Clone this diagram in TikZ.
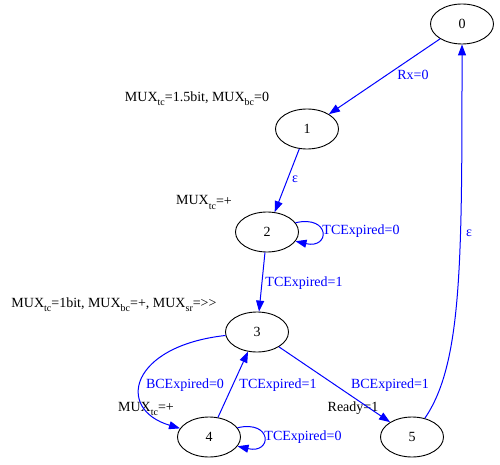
\documentclass[tikz,border=0pt]{standalone}
\usepackage{fontspec}
\setmainfont{Liberation Serif}
\usetikzlibrary{arrows.meta,shapes.geometric}
\newcommand{\lowidx}[1]{\raisebox{-4pt}{\fontsize{10}{10}\selectfont #1}}

\begin{document}
\begin{tikzpicture}[x=1pt,y=1pt,>={Triangle[length=11pt,width=8pt]},
        every node/.style={font=\fontsize{14}{16}\selectfont},
        state/.style={ellipse,draw,line width=0.9pt,minimum width=63pt,minimum height=40pt,inner sep=0pt},
        trans/.style={->,blue,line width=1pt},
        lbl/.style={blue,anchor=base},
        xlbl/.style={anchor=base}]
        \useasboundingbox (0,0) rectangle (500,464);

        \node[state] (s0) at (462,440) {0};
        \node[state] (s1) at (307,335) {1};
        \node[state] (s2) at (267,232) {2};
        \node[state] (s3) at (257,132) {3};
        \node[state] (s4) at (209,27) {4};
        \node[state] (s5) at (412,27) {5};

        % outputs of the states
        \node[xlbl] (x1) at (197,362) {MUX\lowidx{tc}=1.5bit, MUX\lowidx{bc}=0};
        \node[xlbl] (x2) at (204,259) {MUX\lowidx{tc}=+};
        \node[xlbl] (x3) at (114,157) {MUX\lowidx{tc}=1bit, MUX\lowidx{bc}=+, MUX\lowidx{sr}=>{}>};
        \node[xlbl] (x4) at (146,53) {MUX\lowidx{tc}=+};
        \node[xlbl] (x5) at (353,53) {Ready=1};

        \draw[trans] (s0) -- (s1);
        \draw[trans] (s1) -- (s2);
        \draw[trans] (s2.18) .. controls +(35,8) and +(35,-8) .. (s2.-18);
        \draw[trans] (s2) -- (s3);
        \draw[trans] (s3) .. controls (130,118) and (115,55) .. (s4);
        \draw[trans] (s4) -- (s3);
        \draw[trans] (s3) -- (s5);
        \draw[trans] (s4.18) .. controls +(35,8) and +(35,-8) .. (s4.-18);
        \draw[trans] (s5) .. controls (462,100) and (462,200) .. (s0);

        \node[lbl] (l01) at (413,384) {Rx=0};
        \node[lbl] (l12) at (295,281) {ε};
        \node[lbl] (l22) at (361,230) {TCExpired=0};
        \node[lbl] (l23) at (304,178) {TCExpired=1};
        \node[lbl] (l34) at (185,76) {BCExpired=0};
        \node[lbl] (l43) at (278,76) {TCExpired=1};
        \node[lbl] (l35) at (390,76) {BCExpired=1};
        \node[lbl] (l44) at (303,24) {TCExpired=0};
        \node[lbl] (l50) at (469,228) {ε};
\end{tikzpicture}
\end{document}
